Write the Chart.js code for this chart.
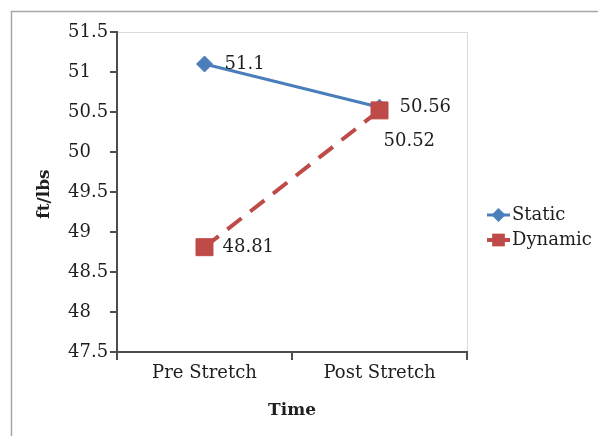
<!DOCTYPE html>
<html>
<head>
<meta charset="utf-8">
<script src="https://cdn.jsdelivr.net/npm/chart.js@4.4.1/dist/chart.umd.min.js"></script>
<style>
  html, body { margin: 0; padding: 0; background: #ffffff; }
  #wrap { width: 598px; height: 436px; position: relative; }
</style>
</head>
<body>
<div id="wrap"><canvas id="chart"></canvas></div>
<script>
// chart values
const categories = ['Pre Stretch', 'Post Stretch'];
const staticValues = [51.1, 50.56];
const dynamicValues = [48.81, 50.52];
const yMin = 47.5;
const yMax = 51.5;
const yStep = 0.5;

const FONT = '"DejaVu Serif", serif';
const TEXT = '#1e1e1e';
const AXIS = '#4d4d4d';

// where each value label sits relative to its point
const labelOffsets = [
  [{ dx: 20, dy: 0 }, { dx: 20, dy: 0 }],
  [{ dx: 18, dy: 0 }, { dx: 4, dy: 31 }]
];

function drawMarker(ctx, style, x, y, r, color) {
  ctx.save();
  ctx.fillStyle = color;
  ctx.beginPath();
  if (style === 'rectRot') {
    ctx.moveTo(x - r, y);
    ctx.lineTo(x, y - r);
    ctx.lineTo(x + r, y);
    ctx.lineTo(x, y + r);
    ctx.closePath();
  } else {
    const s = Math.SQRT1_2 * r;
    ctx.rect(x - s, y - s, 2 * s, 2 * s);
  }
  ctx.fill();
  ctx.restore();
}

// outer frame + light border round the plot area
const framePlugin = {
  id: 'frame',
  beforeDraw(chart) {
    const { ctx, chartArea: a } = chart;
    ctx.save();
    ctx.strokeStyle = '#a6a6a6';
    ctx.lineWidth = 1.5;
    ctx.beginPath();
    ctx.moveTo(11.5, chart.height + 2);
    ctx.lineTo(11.5, 11.5);
    ctx.lineTo(chart.width + 2, 11.5);
    ctx.stroke();
    ctx.strokeStyle = '#dcdcdc';
    ctx.lineWidth = 1;
    ctx.strokeRect(a.left + 0.5, a.top + 0.5, a.right - a.left, a.bottom - a.top);
    ctx.restore();
  }
};

// y axis title, drawn here so the left-aligned tick labels keep their place
const yTitlePlugin = {
  id: 'yTitle',
  afterDraw(chart) {
    const { ctx } = chart;
    ctx.save();
    ctx.translate(45, 194);
    ctx.rotate(-Math.PI / 2);
    ctx.font = 'bold 17px ' + FONT;
    ctx.fillStyle = TEXT;
    ctx.textAlign = 'center';
    ctx.textBaseline = 'middle';
    ctx.fillText('ft/lbs', 0, 0);
    ctx.restore();
  }
};

const valueLabelPlugin = {
  id: 'valueLabels',
  afterDatasetsDraw(chart) {
    const { ctx } = chart;
    ctx.save();
    ctx.font = '18px ' + FONT;
    ctx.fillStyle = TEXT;
    ctx.textAlign = 'left';
    ctx.textBaseline = 'middle';
    chart.data.datasets.forEach((ds, i) => {
      const meta = chart.getDatasetMeta(i);
      meta.data.forEach((pt, j) => {
        const off = labelOffsets[i][j];
        ctx.fillText(String(ds.data[j]), pt.x + off.dx, pt.y + off.dy);
      });
    });
    ctx.restore();
  }
};

// legend with a short line and marker, like the spreadsheet one
const sideLegendPlugin = {
  id: 'sideLegend',
  afterDraw(chart) {
    const { ctx } = chart;
    const x0 = 487, x1 = 510, top = 215, gap = 25;
    ctx.save();
    ctx.font = '18px ' + FONT;
    ctx.textBaseline = 'middle';
    ctx.textAlign = 'left';
    chart.data.datasets.forEach((ds, i) => {
      const y = top + i * gap;
      ctx.strokeStyle = ds.borderColor;
      ctx.lineWidth = ds.borderWidth;
      ctx.beginPath();
      ctx.moveTo(x0, y);
      ctx.lineTo(x1, y);
      ctx.stroke();
      drawMarker(ctx, ds.pointStyle, (x0 + x1) / 2, y, ds.legendRadius, ds.pointBackgroundColor);
      ctx.fillStyle = TEXT;
      ctx.fillText(ds.label, 512, y);
    });
    ctx.restore();
  }
};

new Chart(document.getElementById('chart'), {
  type: 'line',
  data: {
    labels: categories,
    datasets: [
      {
        label: 'Static',
        data: staticValues,
        borderColor: '#4a7ebb',
        borderWidth: 3,
        pointStyle: 'rectRot',
        pointRadius: 8,
        pointBackgroundColor: '#4a7ebb',
        pointBorderColor: '#4a7ebb',
        pointBorderWidth: 1,
        legendRadius: 7,
        order: 1
      },
      {
        label: 'Dynamic',
        data: dynamicValues,
        borderColor: '#be4b48',
        borderWidth: 4,
        borderDash: [18, 11],
        pointStyle: 'rect',
        pointRadius: 12,
        pointBackgroundColor: '#be4b48',
        pointBorderColor: '#be4b48',
        pointBorderWidth: 1,
        legendRadius: 9,
        order: 0
      }
    ]
  },
  options: {
    responsive: true,
    maintainAspectRatio: false,
    animation: false,
    layout: { padding: { left: 68, top: 32, right: 131, bottom: 0 } },
    plugins: {
      legend: { display: false },
      tooltip: { enabled: false }
    },
    scales: {
      x: {
        type: 'category',
        offset: true,
        afterFit: s => { s.height = 84; },
        grid: { offset: true, drawOnChartArea: false, tickLength: 8, color: AXIS, lineWidth: 2 },
        border: { color: AXIS, width: 2 },
        ticks: { color: TEXT, font: { family: FONT, size: 18 }, padding: 3 },
        title: {
          display: true,
          text: 'Time',
          color: TEXT,
          font: { family: FONT, size: 17, weight: 'bold' },
          padding: { top: 0, bottom: 15 }
        }
      },
      y: {
        min: yMin,
        max: yMax,
        afterFit: s => { s.width = 49; },
        grid: { drawOnChartArea: false, tickLength: 7, color: AXIS, lineWidth: 2 },
        border: { color: AXIS, width: 2 },
        ticks: {
          stepSize: yStep,
          crossAlign: 'far',
          color: TEXT,
          font: { family: FONT, size: 18 },
          callback: v => String(Math.round(v * 10) / 10)
        }
      }
    }
  },
  plugins: [framePlugin, yTitlePlugin, valueLabelPlugin, sideLegendPlugin]
});
</script>
</body>
</html>
